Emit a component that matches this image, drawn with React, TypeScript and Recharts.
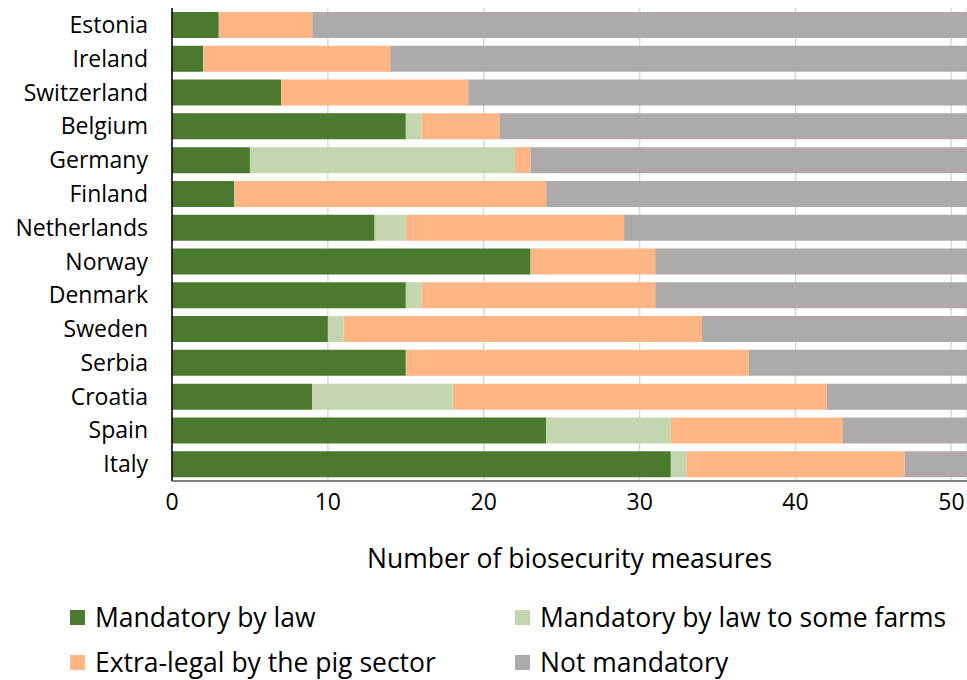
import { Bar, BarChart, CartesianGrid, XAxis, YAxis } from 'recharts'

const countries = [
  'Estonia', 'Ireland', 'Switzerland', 'Belgium', 'Germany', 'Finland', 'Netherlands',
  'Norway', 'Denmark', 'Sweden', 'Serbia', 'Croatia', 'Spain', 'Italy',
]
const mandatory = [3, 2, 7, 15, 5, 4, 13, 23, 15, 10, 15, 9, 24, 32]
const someFarms = [0, 0, 0, 1, 17, 0, 2, 0, 1, 1, 0, 9, 8, 1]
const extraLegal = [6, 12, 12, 5, 1, 20, 14, 8, 15, 23, 22, 24, 11, 14]
const TOTAL = 51
const xTicks = [0, 10, 20, 30, 40, 50]

const series = [
  { key: 'mandatory', name: 'Mandatory by law', color: '#4b792e' },
  { key: 'someFarms', name: 'Mandatory by law to some farms', color: '#c3d6b0' },
  { key: 'extraLegal', name: 'Extra-legal by the pig sector', color: '#ffb584' },
  { key: 'notMandatory', name: 'Not mandatory', color: '#afaaaa' },
]

const data = countries.map((c, i) => ({
  country: c,
  mandatory: mandatory[i],
  someFarms: someFarms[i],
  extraLegal: extraLegal[i],
  notMandatory: TOTAL - mandatory[i] - someFarms[i] - extraLegal[i],
}))

const font = '"Open Sans", sans-serif'

function LegendItem({ name, color, left, top }: { name: string; color: string; left: number; top: number }) {
  return (
    <div style={{ position: 'absolute', left, top, display: 'flex', alignItems: 'center', fontSize: 26.5, color: '#000' }}>
      <span style={{ width: 15, height: 15, background: color, marginRight: 10, display: 'inline-block' }} />
      {name}
    </div>
  )
}

export default function App() {
  return (
    <div style={{ position: 'absolute', left: 0, top: 0, width: 967, height: 680, background: '#fff', fontFamily: font }}>
      <BarChart
        width={967}
        height={680}
        data={data}
        layout="vertical"
        margin={{ top: 8, right: 0, left: 0, bottom: 0 }}
        barSize={26}
      >
        <CartesianGrid horizontal={false} stroke="#d9d9d9" strokeWidth={1.5} />
        <XAxis
          type="number"
          domain={[0, TOTAL]}
          ticks={xTicks}
          allowDataOverflow
          height={199}
          tickSize={0}
          tickMargin={13}
          axisLine={{ stroke: '#595959', strokeWidth: 1.5 }}
          tick={{ fill: '#000', fontSize: 23, fontFamily: font }}
          label={{
            value: 'Number of biosecurity measures',
            position: 'insideBottom',
            offset: 112,
            fill: '#000',
            fontSize: 26.5,
            fontFamily: font,
          }}
        />
        <YAxis
          type="category"
          dataKey="country"
          width={172}
          tickSize={0}
          tickMargin={24}
          axisLine={{ stroke: '#000', strokeWidth: 1.5 }}
          tick={{ fill: '#000', fontSize: 23, fontFamily: font }}
          interval={0}
        />
        {series.map((s) => (
          <Bar key={s.key} dataKey={s.key} name={s.name} stackId="a" fill={s.color} isAnimationActive={false} />
        ))}
      </BarChart>
      <LegendItem name={series[0].name} color={series[0].color} left={70} top={599} />
      <LegendItem name={series[1].name} color={series[1].color} left={515} top={599} />
      <LegendItem name={series[2].name} color={series[2].color} left={70} top={644} />
      <LegendItem name={series[3].name} color={series[3].color} left={515} top={644} />
    </div>
  )
}
